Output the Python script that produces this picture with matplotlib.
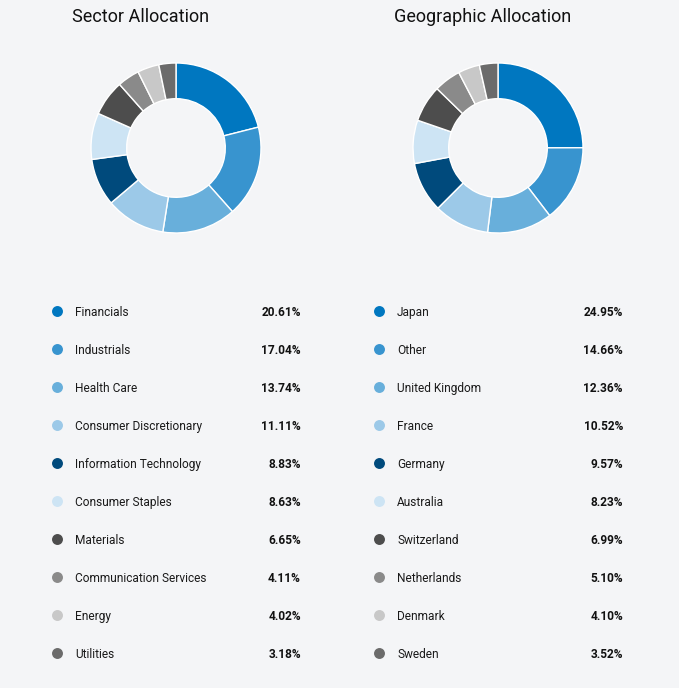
import matplotlib.pyplot as plt

plt.rcParams['font.family'] = ['Roboto', 'DejaVu Sans']

# -----------------------------------------------------------------------------
# Data
# -----------------------------------------------------------------------------
sector_labels = ["Financials", "Industrials", "Health Care", "Consumer Discretionary",
                 "Information Technology", "Consumer Staples", "Materials",
                 "Communication Services", "Energy", "Utilities"]
sector_values = [20.61, 17.04, 13.74, 11.11, 8.83, 8.63, 6.65, 4.11, 4.02, 3.18]

geo_labels = ["Japan", "Other", "United Kingdom", "France", "Germany", "Australia",
              "Switzerland", "Netherlands", "Denmark", "Sweden"]
geo_values = [24.95, 14.66, 12.36, 10.52, 9.57, 8.23, 6.99, 5.10, 4.10, 3.52]

palette = ["#0077c0", "#3894cf", "#68afdb", "#9cc9e8", "#004a7c",
           "#cde4f4", "#4d4d4d", "#8a8a8a", "#c8c8c8", "#6b6b6b"]

BG = "#f4f5f7"
W, H = 679, 688

fig = plt.figure(figsize=(W / 100, H / 100), dpi=100, facecolor=BG)

# full-figure axis in pixel coordinates for titles + legend tables
base = fig.add_axes([0, 0, 1, 1])
base.set_xlim(0, W)
base.set_ylim(H, 0)
base.axis("off")
base.set_facecolor(BG)


def donut(cx, cy, r, values):
    ax = fig.add_axes([(cx - r) / W, (H - cy - r) / H, 2 * r / W, 2 * r / H])
    ax.pie(values, colors=palette, startangle=90, counterclock=False, radius=1,
           wedgeprops=dict(width=0.42, edgecolor="white", linewidth=1.0))
    ax.set_xlim(-1, 1)
    ax.set_ylim(-1, 1)
    ax.set_aspect("equal")
    ax.axis("off")


def table(x_dot, x_label, x_value, labels, values):
    for i, (lab, val) in enumerate(zip(labels, values)):
        y = 311 + i * 38
        base.scatter([x_dot], [y], s=62, color=palette[i], zorder=3, linewidths=0)
        base.text(x_label, y + 1.5, lab, fontsize=8.6, color="#1a1a1a", va="center", ha="left")
        base.text(x_value, y + 1.5, f"{val:.2f}%", fontsize=8.6, color="#111111",
                  va="center", ha="right", fontweight="bold")


base.text(141, 17, "Sector Allocation", fontsize=13, ha="center", va="center", color="#111111")
base.text(483, 17, "Geographic Allocation", fontsize=13, ha="center", va="center", color="#111111")

donut(176, 148, 85, sector_values)
donut(498, 148, 85, geo_values)

table(57, 75, 301, sector_labels, sector_values)
table(379, 397, 623, geo_labels, geo_values)

fig.savefig("out.png", dpi=100, facecolor=BG)
